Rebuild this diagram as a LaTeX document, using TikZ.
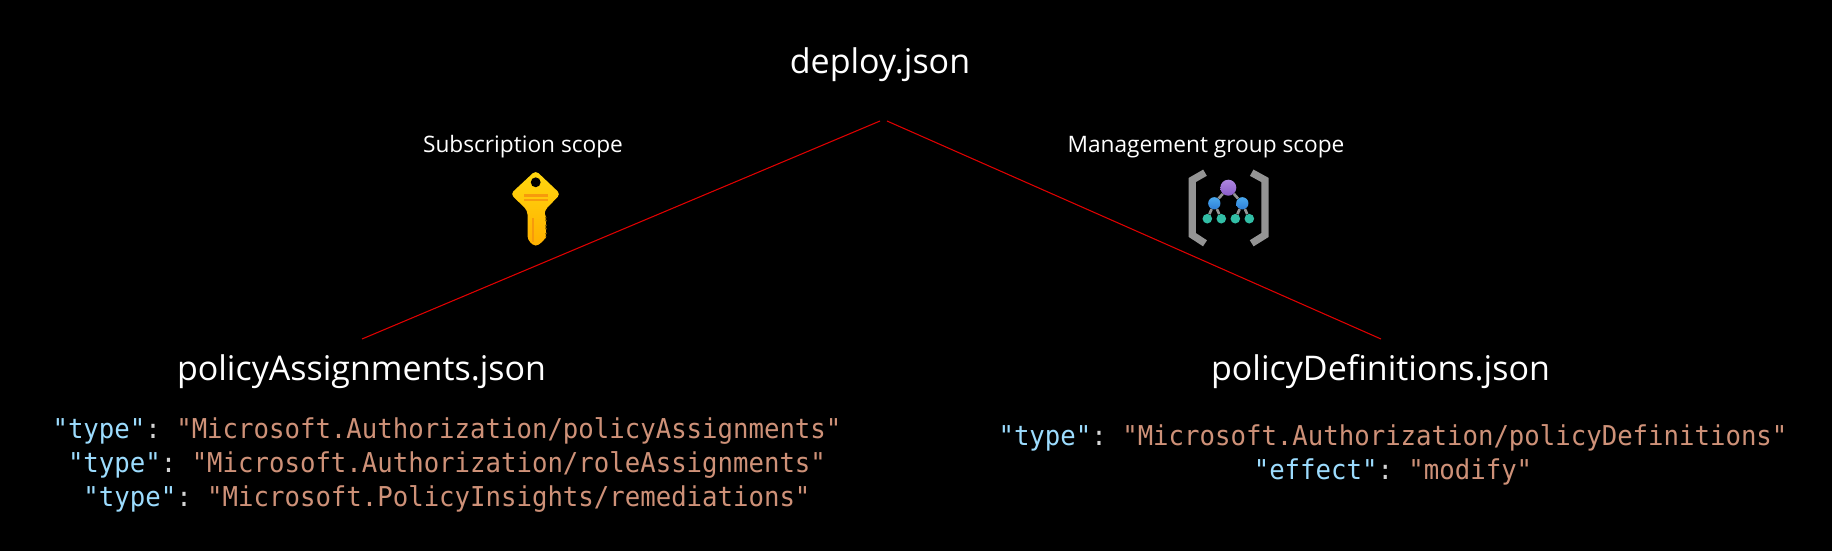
\documentclass[tikz,border=0pt]{standalone}
\usepackage{xcolor}
\usepackage{fontspec}
\setmainfont{Open Sans}
\setmonofont[FakeStretch=0.94]{DejaVu Sans Mono}
\definecolor{cBack}{HTML}{000000}
\definecolor{cLine}{HTML}{E00000}
\definecolor{cKey}{HTML}{9CDCFE}
\definecolor{cStr}{HTML}{CE9178}
\definecolor{cPunct}{HTML}{D4D4D4}
\definecolor{cBracket}{HTML}{949494}
\definecolor{cRootA}{HTML}{AE86E0}
\definecolor{cRootB}{HTML}{8A5CC8}
\definecolor{cMidA}{HTML}{4AA8EE}
\definecolor{cMidB}{HTML}{2F7FD6}
\definecolor{cLeaf}{HTML}{32BEA6}
\definecolor{cKeyA}{HTML}{FFD70F}
\definecolor{cKeyB}{HTML}{FFB000}
\definecolor{cKeyC}{HTML}{F79A0C}
\usetikzlibrary{positioning,calc}
\tikzset{
  node-title/.style={text=white,font=\fontsize{25.5pt}{28pt}\selectfont,anchor=base,inner sep=0pt},
  node-scope/.style={text=white,font=\fontsize{17pt}{20pt}\selectfont,anchor=base,inner sep=0pt},
  node-code/.style={align=center,inner sep=0pt,anchor=center,
    font=\fontsize{20.5pt}{25.4pt}\selectfont\ttfamily},
  node-root/.style={circle,inner sep=0pt,minimum size=12pt,top color=cRootA,bottom color=cRootB},
  node-mid/.style={circle,inner sep=0pt,minimum size=9.2pt,top color=cMidA,bottom color=cMidB},
  node-leaf/.style={circle,inner sep=0pt,minimum size=7.2pt,fill=cLeaf},
  line-scope/.style={draw=cLine,line width=0.8pt},
  line-tree/.style={draw=cBracket,line width=2pt},
  line-bracket/.style={draw=cBracket,line width=5.4pt,line join=miter},
}
\newcommand{\jkey}[1]{\textcolor{cKey}{"#1"}\textcolor{cPunct}{:}}
\newcommand{\jstr}[1]{\textcolor{cStr}{"#1"}}
\begin{document}
\begin{tikzpicture}[x=0.75pt,y=-0.75pt]
  \useasboundingbox (0,0) rectangle (1832,550);
  \fill[cBack] (-5,-5) rectangle (1837,555);
  % titles
  \node[node-title] (deploy) at (880,73.5) {deploy.json};
  \node[node-title] (assign) at (361.5,380) {policyAssignments.json};
  \node[node-title] (define) at (1380.5,380) {policyDefinitions.json};
  \node[node-scope] (subscr) at (523,152) {Subscription scope};
  \node[node-scope] (mgmt) at (1206,152) {Management group scope};
  % code
  \node[node-code] (assign-code) at (447,465) {%
    \jkey{type} \jstr{Microsoft.Authorization/policyAssignments}\\
    \jkey{type} \jstr{Microsoft.Authorization/roleAssignments}\\
    \jkey{type} \jstr{Microsoft.PolicyInsights/remediations}};
  \node[node-code] (define-code) at (1393,455) {%
    \jkey{type} \jstr{Microsoft.Authorization/policyDefinitions}\\
    \jkey{effect} \jstr{modify}};
  % connectors
  \coordinate (deploy-l) at (880,121);
  \coordinate (deploy-r) at (887,121);
  \coordinate (assign-t) at (362,339);
  \coordinate (define-t) at (1381,339);
  \draw[line-scope] (deploy-l) -- (assign-t);
  \draw[line-scope] (deploy-r) -- (define-t);
  % key icon
  \shade[top color=cKeyA,bottom color=cKeyB,rounded corners=3pt]
    (535.7,170.5) -- (560.5,194) -- (544.5,210.5) -- (544.5,215) -- (547,219)
    -- (544.5,223) -- (547,227) -- (544.5,231) -- (547,235) -- (544.5,240)
    -- (535.7,247) -- (527.5,240) -- (527.5,210.5) -- (510.5,194) -- cycle;
  \fill[cBack] (535.7,182.3) circle[radius=3.7pt];
  \fill[cKeyC] (524,194) rectangle (548,196.5);
  \fill[cKeyC] (524,198.5) rectangle (548,201);
  \fill[cKeyC] (531.5,218) rectangle (533.5,242);
  % management group icon
  \draw[line-bracket] (1205,172.7) -- (1192.3,180) -- (1192.3,235) -- (1205,243.3);
  \draw[line-bracket] (1251.7,172.7) -- (1265,180) -- (1265,235) -- (1251.7,243.3);
  \node[node-root] (root) at (1228.3,187.7) {};
  \node[node-mid] (mid-l) at (1214.3,203.3) {};
  \node[node-mid] (mid-r) at (1242.3,203.3) {};
  \node[node-leaf] (leaf-a) at (1207.3,218.7) {};
  \node[node-leaf] (leaf-b) at (1221.3,218.7) {};
  \node[node-leaf] (leaf-c) at (1235.3,218.7) {};
  \node[node-leaf] (leaf-d) at (1249.3,218.7) {};
  \draw[line-tree] (root) -- (mid-l);
  \draw[line-tree] (root) -- (mid-r);
  \draw[line-tree] (mid-l) -- (leaf-a);
  \draw[line-tree] (mid-l) -- (leaf-b);
  \draw[line-tree] (mid-r) -- (leaf-c);
  \draw[line-tree] (mid-r) -- (leaf-d);
\end{tikzpicture}
\end{document}
